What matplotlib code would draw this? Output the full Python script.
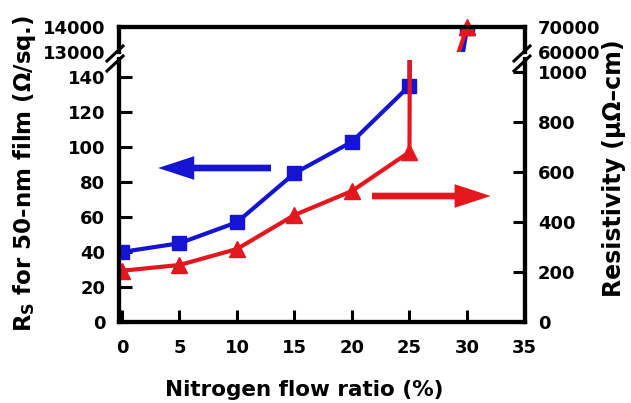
import matplotlib
matplotlib.use("Agg")
import matplotlib.pyplot as plt
from matplotlib.lines import Line2D

# data
flow = [0, 5, 10, 15, 20, 25, 30]
rs = [40, 45, 57, 85, 103, 135, 13950]            # ohm/sq, left axis
rho = [205, 228, 292, 428, 524, 680, 70000]       # uOhm-cm, right axis

xticks = [0, 5, 10, 15, 20, 25, 30, 35]
rs_ticks = [0, 20, 40, 60, 80, 100, 120, 140]
rho_ticks = [0, 200, 400, 600, 800, 1000]
rs_top_ticks = [13000, 14000]
rho_top_ticks = [60000, 70000]

blue = "#1414d2"
red = "#e4161e"

plt.rcParams["font.family"] = ["DejaVu Sans"]
plt.rcParams["font.weight"] = "bold"
plt.rcParams["mathtext.fontset"] = "custom"
plt.rcParams["mathtext.rm"] = "DejaVu Sans:bold"

W, H = 631, 403
fig = plt.figure(figsize=(W / 100, H / 100), dpi=100)


def box(l, t, r, b):
    # pixel box -> figure fraction rect
    return [l / W, 1 - b / H, (r - l) / W, (b - t) / H]


ax = fig.add_axes(box(118.5, 59.5, 524.5, 322))
axt = fig.add_axes(box(118.5, 27, 524.5, 52))
ax2 = ax.twinx()
axt2 = axt.twinx()

for a in (ax, ax2, axt, axt2):
    a.set_xlim(-0.3, 35)
    for s in a.spines.values():
        s.set_linewidth(3)
    a.patch.set_visible(False)

for a in (ax, ax2):
    a.spines["top"].set_visible(False)
for a in (axt, axt2):
    a.spines["bottom"].set_visible(False)
    a.set_xticks([])

ax.set_ylim(0, 150)
ax2.set_ylim(0, 1050)
axt.set_ylim(13000, 14000)
axt2.set_ylim(60000, 70000)

ax.set_xticks(xticks)
ax.set_yticks(rs_ticks)
ax2.set_yticks(rho_ticks)
axt.set_yticks(rs_top_ticks)
axt2.set_yticks(rho_top_ticks)

for a in (ax, ax2):
    a.tick_params(direction="in", length=9, width=2.2, labelsize=13, pad=9.5)
ax.tick_params(axis="x", pad=12.5)
for a in (axt, axt2):
    a.tick_params(axis="y", length=0, labelsize=13, pad=9.5)

# series, drawn in both parts of the broken axis
for t in (ax, axt):
    t.plot(flow, rs, color=blue, lw=3, marker="s", ms=10)
for t in (ax2, axt2):
    t.plot(flow, rho, color=red, lw=3, marker="^", ms=11)
axt2.plot(flow[-1:], rho[-1:], color=red, marker="^", ms=11, lw=0, clip_on=False)

# arrows telling which axis belongs to which curve
style = "simple,head_length=1.3,head_width=0.85,tail_width=0.24"
ax.annotate("", xy=(2.9, 88), xytext=(13.2, 88),
            arrowprops=dict(arrowstyle=style, mutation_scale=20, color=blue, lw=0))
ax2.annotate("", xy=(32.3, 504), xytext=(21.5, 504),
             arrowprops=dict(arrowstyle=style, mutation_scale=20, color=red, lw=0))

# break marks
for xs in ((107, 123), (514, 530)):
    for dy in (0, 10):
        fig.add_artist(Line2D([xs[0] / W, xs[1] / W],
                              [1 - (61 + dy) / H, 1 - (46 + dy) / H],
                              transform=fig.transFigure, color="black", lw=2.2))

fig.text(304.5 / W, 1 - 396 / H, "Nitrogen flow ratio (%)", fontsize=15.5,
         fontweight="bold", ha="center", va="baseline")
fig.text(25 / W, 1 - 173 / H, r"R$_\mathrm{S}$ for 50-nm film (Ω/sq.)", rotation=90,
         fontsize=16.5, fontweight="bold", ha="center", va="center")
fig.text(614 / W, 1 - 168 / H, "Resistivity (μΩ–cm)", rotation=90,
         fontsize=17, fontweight="bold", ha="center", va="center")

fig.savefig("out.png", dpi=100)
